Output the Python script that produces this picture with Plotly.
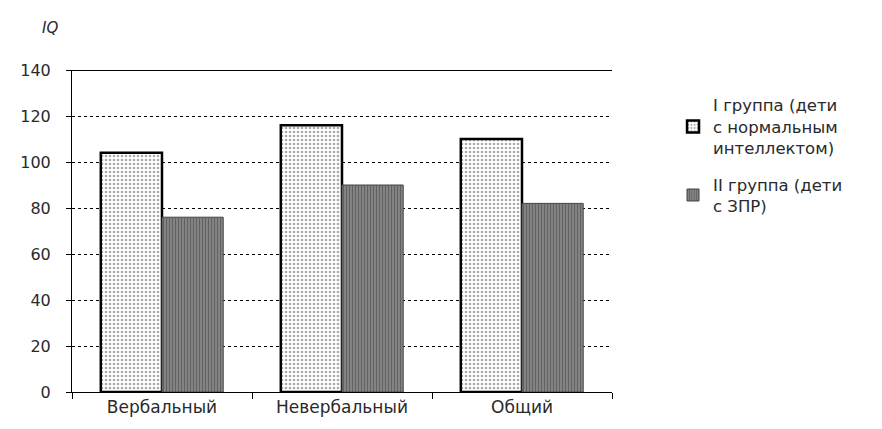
import plotly.graph_objects as go

categories = ["Вербальный", "Невербальный", "Общий"]
group1_name = "I группа (дети<br>с нормальным<br>интеллектом)"
group2_name = "II группа (дети<br>с ЗПР)"
group1_values = [104, 116, 110]
group2_values = [76, 90, 82]
y_ticks = [0, 20, 40, 60, 80, 100, 120, 140]

font_family = "DejaVu Sans, Verdana, sans-serif"
text_color = "#2a2a2a"

fig = go.Figure()
fig.add_trace(go.Bar(
    x=categories, y=group1_values, name=group1_name, legendgroup="g1",
    marker=dict(color="white",
                line=dict(color="black", width=2.5),
                pattern=dict(shape=".", fgcolor="#555555", bgcolor="white",
                             size=4, solidity=0.35)),
))
fig.add_trace(go.Bar(
    x=categories, y=group2_values, name=group2_name, legendgroup="g2",
    marker=dict(color="#7c7c7c",
                line=dict(color="#444444", width=1),
                pattern=dict(shape="|", fgcolor="#333333", bgcolor="#8e8e8e",
                             size=3, solidity=0.5)),
))

fig.update_layout(
    width=882, height=429,
    margin=dict(l=56, r=278, t=62, b=45),
    paper_bgcolor="white", plot_bgcolor="white",
    barmode="group", bargap=0.32, bargroupgap=0,
    font=dict(family=font_family, size=16, color=text_color),
    showlegend=True,
    legend=dict(x=1.113, y=0.945, xanchor="left", yanchor="top",
                font=dict(size=16.5, color=text_color),
                itemwidth=30, tracegroupgap=12, traceorder="grouped",
                bgcolor="rgba(0,0,0,0)"),
    xaxis=dict(showline=True, linecolor="black", linewidth=1,
               ticks="outside", tickson="boundaries", ticklen=6,
               tickcolor="black", showgrid=False,
               tickfont=dict(size=17, color=text_color)),
    yaxis=dict(range=[0, 140], tickvals=y_ticks,
               showline=True, linecolor="black", linewidth=1,
               ticks="outside", ticklen=5, tickcolor="black",
               showgrid=True, gridcolor="black", gridwidth=1, griddash="dot",
               zeroline=False, ticklabelstandoff=12,
               tickfont=dict(size=16, color=text_color)),
    shapes=[dict(type="line", xref="paper", yref="y", x0=0, x1=1, y0=140, y1=140,
                 line=dict(color="black", width=2))],
    annotations=[dict(text="<i>IQ</i>", xref="paper", yref="paper",
                      x=-0.04, y=1.13, xanchor="center", yanchor="middle",
                      showarrow=False, font=dict(size=15, color=text_color))],
)

fig.write_html("out.html")
